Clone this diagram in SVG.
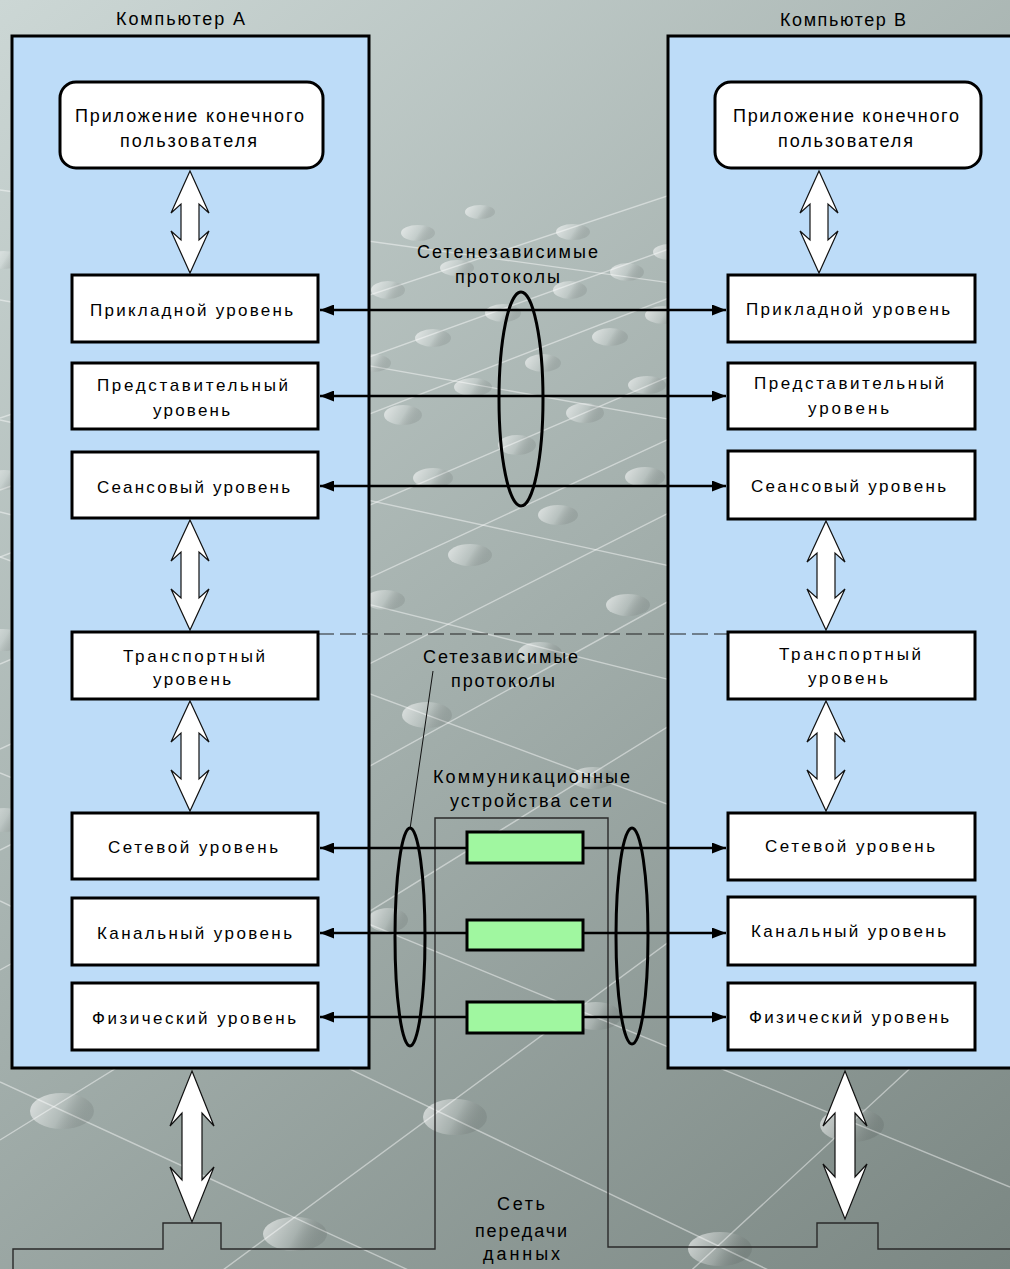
<svg xmlns="http://www.w3.org/2000/svg" width="1010" height="1269" viewBox="0 0 1010 1269">
  <defs>
    <linearGradient id="bg" x1="0" y1="0" x2="1010" y2="1269" gradientUnits="userSpaceOnUse">
      <stop offset="0" stop-color="#ccd7d5"/>
      <stop offset="0.5" stop-color="#a3afac"/>
      <stop offset="1" stop-color="#7b8783"/>
    </linearGradient>
    <linearGradient id="disc" x1="0" y1="0" x2="1" y2="0.3">
      <stop offset="0" stop-color="#ffffff" stop-opacity="0.65"/>
      <stop offset="0.6" stop-color="#ffffff" stop-opacity="0.2"/>
      <stop offset="1" stop-color="#000000" stop-opacity="0.08"/>
    </linearGradient>
    <marker id="ah" viewBox="0 0 14 11" refX="14" refY="5.5" markerWidth="14" markerHeight="11" markerUnits="userSpaceOnUse" orient="auto-start-reverse">
      <path d="M0,0 L14,5.5 L0,11 z" fill="#000"/>
    </marker>
    <style>
      .comp { fill: #bddcf8; stroke: #000; stroke-width: 3; }
      .layer { fill: #fff; stroke: #000; stroke-width: 3; }
      .dev { fill: #a0f7a0; stroke: #000; stroke-width: 3; }
      .blk { fill: #fff; stroke: #111; stroke-width: 1.2; stroke-linejoin: miter; }
      .link { stroke: #000; stroke-width: 2.6; fill: none; marker-start: url(#ah); marker-end: url(#ah); }
      .ring { fill: none; stroke: #000; stroke-width: 3; }
      .wire { fill: none; stroke: #2a2a2a; stroke-width: 1.4; }
      .grid { stroke: #ffffff; stroke-opacity: 0.45; stroke-width: 1.4; fill: none; }
      .disc { fill: url(#disc); }
      text { font-family: "Liberation Sans", Arial, sans-serif; fill: #000; }
      .t17 { font-size: 17px; }
      .t18 { font-size: 18px; }
    </style>
  </defs>

  <!-- backdrop -->
  <rect x="0" y="0" width="1010" height="1269" fill="url(#bg)"/>
  <g id="backdrop-grid">
    <path class="grid" d="M0,418 L1010,82 M0,490 L1010,126 M0,557 L1010,166 M0,664 L1010,230 M0,749 L1010,281 M0,850 L1010,341 M0,970 L1010,413 M0,1140 L1010,515 M0,1434 L1010,691 M0,1909 L1010,976"/>
    <path class="grid" d="M0,190 L1010,330 M0,300 L1010,480 M0,420 L1010,640 M0,512 L1010,765 M0,557 L1010,931 M0,773 L1010,1187 M0,901 L1010,1386 M0,1082 L1010,1547"/>
    <ellipse class="disc" cx="480" cy="212" rx="15" ry="7"/>
    <ellipse class="disc" cx="418" cy="233" rx="17" ry="8"/>
    <ellipse class="disc" cx="573" cy="232" rx="17" ry="8"/>
    <ellipse class="disc" cx="670" cy="252" rx="17" ry="8"/>
    <ellipse class="disc" cx="457" cy="268" rx="17" ry="8"/>
    <ellipse class="disc" cx="627" cy="272" rx="17" ry="9"/>
    <ellipse class="disc" cx="388" cy="290" rx="17" ry="9"/>
    <ellipse class="disc" cx="570" cy="290" rx="17" ry="9"/>
    <ellipse class="disc" cx="503" cy="313" rx="18" ry="9"/>
    <ellipse class="disc" cx="663" cy="315" rx="18" ry="9"/>
    <ellipse class="disc" cx="433" cy="338" rx="18" ry="9"/>
    <ellipse class="disc" cx="610" cy="337" rx="18" ry="9"/>
    <ellipse class="disc" cx="543" cy="363" rx="18" ry="9"/>
    <ellipse class="disc" cx="373" cy="363" rx="18" ry="9"/>
    <ellipse class="disc" cx="473" cy="387" rx="19" ry="9"/>
    <ellipse class="disc" cx="647" cy="385" rx="19" ry="9"/>
    <ellipse class="disc" cx="403" cy="415" rx="19" ry="10"/>
    <ellipse class="disc" cx="585" cy="413" rx="19" ry="10"/>
    <ellipse class="disc" cx="517" cy="445" rx="19" ry="10"/>
    <ellipse class="disc" cx="433" cy="478" rx="20" ry="10"/>
    <ellipse class="disc" cx="645" cy="477" rx="20" ry="10"/>
    <ellipse class="disc" cx="558" cy="515" rx="20" ry="10"/>
    <ellipse class="disc" cx="470" cy="555" rx="22" ry="11"/>
    <ellipse class="disc" cx="628" cy="605" rx="22" ry="11"/>
    <ellipse class="disc" cx="385" cy="600" rx="20" ry="10"/>
    <ellipse class="disc" cx="540" cy="653" rx="22" ry="11"/>
    <ellipse class="disc" cx="427" cy="715" rx="25" ry="13"/>
    <ellipse class="disc" cx="593" cy="778" rx="22" ry="11"/>
    <ellipse class="disc" cx="388" cy="920" rx="20" ry="12"/>
    <ellipse class="disc" cx="596" cy="1016" rx="25" ry="14"/>
    <ellipse class="disc" cx="62" cy="1111" rx="32" ry="18"/>
    <ellipse class="disc" cx="455" cy="1117" rx="32" ry="18"/>
    <ellipse class="disc" cx="852" cy="1125" rx="32" ry="17"/>
    <ellipse class="disc" cx="295" cy="1234" rx="32" ry="17"/>
    <ellipse class="disc" cx="720" cy="1249" rx="32" ry="17"/>
    <ellipse class="disc" cx="4" cy="260" rx="18" ry="9"/>
    <ellipse class="disc" cx="4" cy="480" rx="20" ry="10"/>
    <ellipse class="disc" cx="3" cy="640" rx="22" ry="11"/>
    <ellipse class="disc" cx="4" cy="820" rx="24" ry="12"/>
  </g>

  <!-- data network outline -->
  <g id="network">
    <path class="wire" d="M13,1269 V1249 H163 V1223 H221 V1249 H435 V818 H608 V1247 H817 V1223 H878 V1249 H1012"/>
    <text class="t18" x="497" y="1210" textLength="48" lengthAdjust="spacing">Сеть</text>
    <text class="t18" x="475" y="1237" textLength="92" lengthAdjust="spacing">передачи</text>
    <text class="t18" x="483" y="1260" textLength="77" lengthAdjust="spacing">данных</text>
  </g>

  <!-- computer A -->
  <g id="computer-a">
    <rect class="comp" x="12" y="36" width="357" height="1032"/>
    <text class="t18" x="116" y="25" textLength="129" lengthAdjust="spacing">Компьютер А</text>
  </g>
  <!-- computer B -->
  <g id="computer-b">
    <rect class="comp" x="668" y="36" width="360" height="1032"/>
    <text class="t18" x="780" y="26" textLength="126" lengthAdjust="spacing">Компьютер В</text>
  </g>

  <!-- layer boundary -->
  <line x1="318" y1="634" x2="728" y2="634" stroke="#222" stroke-width="1.2" stroke-dasharray="16 6"/>

  <!-- peer-to-peer protocol links -->
  <g id="connectors">
    <line class="link" x1="320" y1="310" x2="726" y2="310"/>
    <line class="link" x1="320" y1="396" x2="726" y2="396"/>
    <line class="link" x1="320" y1="486" x2="726" y2="486"/>
    <line class="link" x1="320" y1="848" x2="726" y2="848"/>
    <line class="link" x1="320" y1="933" x2="726" y2="933"/>
    <line class="link" x1="320" y1="1017" x2="726" y2="1017"/>
    <!-- vertical block arrows between layers -->
    <polygon class="blk" points="190,171 209,213 199,204 199,240 209,231 190,273 171,231 181,240 181,204 171,213"/>
    <polygon class="blk" points="190,520 209,561 199,552 199,598 209,589 190,630 171,589 181,598 181,552 171,561"/>
    <polygon class="blk" points="190,701 209,742 199,733 199,779 209,770 190,811 171,770 181,779 181,733 171,742"/>
    <polygon class="blk" points="192,1071 214,1126 202,1113 202,1180 214,1167 192,1222 170,1167 182,1180 182,1113 170,1126"/>
    <polygon class="blk" points="819,171 838,213 828,204 828,240 838,231 819,273 800,231 810,240 810,204 800,213"/>
    <polygon class="blk" points="826,521 845,562 835,553 835,598 845,589 826,630 807,589 817,598 817,553 807,562"/>
    <polygon class="blk" points="826,701 845,742 835,733 835,779 845,770 826,811 807,770 817,779 817,733 807,742"/>
    <polygon class="blk" points="845,1071 867,1126 855,1113 855,1177 867,1164 845,1219 823,1164 835,1177 835,1113 823,1126"/>
    <!-- leader from label to lower-left ring -->
    <line x1="433" y1="671" x2="410" y2="829" stroke="#111" stroke-width="1"/>
  </g>

  <!-- end-user applications -->
  <g id="app-a">
    <rect x="60" y="82" width="263" height="86" rx="16" ry="16" class="layer"/>
    <text class="t18" x="75" y="122" textLength="229" lengthAdjust="spacing">Приложение конечного</text>
    <text class="t18" x="120" y="147" textLength="137" lengthAdjust="spacing">пользователя</text>
  </g>
  <g id="app-b">
    <rect x="715" y="82" width="266" height="86" rx="16" ry="16" class="layer"/>
    <text class="t18" x="733" y="122" textLength="226" lengthAdjust="spacing">Приложение конечного</text>
    <text class="t18" x="778" y="147" textLength="135" lengthAdjust="spacing">пользователя</text>
  </g>

  <!-- OSI layers, computer A -->
  <g id="a-application">
    <rect class="layer" x="72" y="275" width="246" height="67"/>
    <text class="t17" x="90" y="316" textLength="203" lengthAdjust="spacing">Прикладной уровень</text>
  </g>
  <g id="a-presentation">
    <rect class="layer" x="72" y="363" width="246" height="66"/>
    <text class="t17" x="97" y="391" textLength="191" lengthAdjust="spacing">Представительный</text>
    <text class="t17" x="153" y="416" textLength="77" lengthAdjust="spacing">уровень</text>
  </g>
  <g id="a-session">
    <rect class="layer" x="72" y="452" width="246" height="66"/>
    <text class="t17" x="97" y="493" textLength="193" lengthAdjust="spacing">Сеансовый уровень</text>
  </g>
  <g id="a-transport">
    <rect class="layer" x="72" y="632" width="246" height="67"/>
    <text class="t17" x="123" y="662" textLength="142" lengthAdjust="spacing">Транспортный</text>
    <text class="t17" x="153" y="685" textLength="78" lengthAdjust="spacing">уровень</text>
  </g>
  <g id="a-network">
    <rect class="layer" x="72" y="813" width="246" height="66"/>
    <text class="t17" x="108" y="853" textLength="170" lengthAdjust="spacing">Сетевой уровень</text>
  </g>
  <g id="a-datalink">
    <rect class="layer" x="72" y="898" width="246" height="67"/>
    <text class="t17" x="97" y="939" textLength="195" lengthAdjust="spacing">Канальный уровень</text>
  </g>
  <g id="a-physical">
    <rect class="layer" x="72" y="983" width="246" height="67"/>
    <text class="t17" x="92" y="1024" textLength="204" lengthAdjust="spacing">Физический уровень</text>
  </g>

  <!-- OSI layers, computer B -->
  <g id="b-application">
    <rect class="layer" x="728" y="275" width="247" height="67"/>
    <text class="t17" x="746" y="315" textLength="204" lengthAdjust="spacing">Прикладной уровень</text>
  </g>
  <g id="b-presentation">
    <rect class="layer" x="728" y="363" width="247" height="66"/>
    <text class="t17" x="754" y="389" textLength="190" lengthAdjust="spacing">Представительный</text>
    <text class="t17" x="808" y="414" textLength="81" lengthAdjust="spacing">уровень</text>
  </g>
  <g id="b-session">
    <rect class="layer" x="728" y="451" width="247" height="68"/>
    <text class="t17" x="751" y="492" textLength="195" lengthAdjust="spacing">Сеансовый уровень</text>
  </g>
  <g id="b-transport">
    <rect class="layer" x="728" y="632" width="247" height="67"/>
    <text class="t17" x="779" y="660" textLength="142" lengthAdjust="spacing">Транспортный</text>
    <text class="t17" x="808" y="684" textLength="80" lengthAdjust="spacing">уровень</text>
  </g>
  <g id="b-network">
    <rect class="layer" x="728" y="813" width="247" height="67"/>
    <text class="t17" x="765" y="852" textLength="170" lengthAdjust="spacing">Сетевой уровень</text>
  </g>
  <g id="b-datalink">
    <rect class="layer" x="728" y="897" width="247" height="68"/>
    <text class="t17" x="751" y="937" textLength="195" lengthAdjust="spacing">Канальный уровень</text>
  </g>
  <g id="b-physical">
    <rect class="layer" x="728" y="983" width="247" height="67"/>
    <text class="t17" x="749" y="1023" textLength="200" lengthAdjust="spacing">Физический уровень</text>
  </g>

  <!-- communication devices -->
  <g id="devices">
    <rect class="dev" x="467" y="832" width="116" height="31"/>
    <rect class="dev" x="467" y="920" width="116" height="30"/>
    <rect class="dev" x="467" y="1002" width="116" height="31"/>
    <text class="t18" x="433" y="783" textLength="197" lengthAdjust="spacing">Коммуникационные</text>
    <text class="t18" x="450" y="807" textLength="162" lengthAdjust="spacing">устройства сети</text>
  </g>

  <!-- protocol groups -->
  <g id="independent-protocols">
    <ellipse class="ring" cx="521" cy="399" rx="22" ry="107"/>
    <text class="t18" x="417" y="258" textLength="181" lengthAdjust="spacing">Сетенезависимые</text>
    <text class="t18" x="455" y="283" textLength="105" lengthAdjust="spacing">протоколы</text>
  </g>
  <g id="dependent-protocols">
    <ellipse class="ring" cx="410" cy="937" rx="15" ry="109"/>
    <ellipse class="ring" cx="632" cy="936" rx="16" ry="108"/>
    <text class="t18" x="423" y="663" textLength="155" lengthAdjust="spacing">Сетезависимые</text>
    <text class="t18" x="451" y="687" textLength="104" lengthAdjust="spacing">протоколы</text>
  </g>
</svg>
